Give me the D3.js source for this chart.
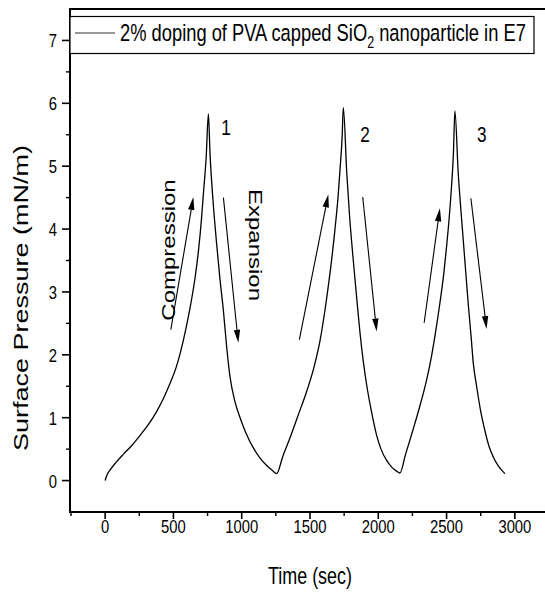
<!DOCTYPE html>
<html><head><meta charset="utf-8">
<script src="https://cdn.jsdelivr.net/npm/d3@7"></script>
<style>body{margin:0;background:#fff}svg{display:block}text{font-family:"Liberation Sans",Arial,sans-serif;fill:#000}</style>
</head><body><svg id="c" width="545" height="593"></svg>
<script>
const timeSec = [0,12,37,80,134,200,256,320,378,430,476,520,549,590,622,660,683,705,719,740,756,
  768,790,817,840,866,890,915,950,988,1030,1085,1130,1183,1225,1256,
  1300,1354,1410,1476,1524,1573,1622,1655,1683,1705,1720,1735,1744,
  1769,1790,1817,1840,1866,1890,1915,1950,1988,2020,2061,2100,2134,2158,
  2200,2256,2300,2354,2390,2415,2451,2480,2500,2520,2537,2550,2561,
  2585,2605,2622,2640,2659,2680,2695,2720,2750,2780,2810,2841,2880,2910,2927];
const pressure = [0,0.08,0.17,0.29,0.42,0.57,0.72,0.90,1.10,1.32,1.55,1.80,2.02,2.40,2.75,3.25,3.65,4.15,4.55,5.15,5.83,
  5.20,4.45,3.75,3.22,2.70,2.12,1.64,1.26,1.00,0.76,0.52,0.37,0.24,0.16,0.11,
  0.38,0.68,1.02,1.42,1.76,2.22,2.90,3.45,4.00,4.50,4.95,5.45,5.93,
  4.90,4.20,3.50,2.95,2.35,1.90,1.52,1.10,0.72,0.50,0.32,0.21,0.15,0.12,
  0.42,0.82,1.15,1.60,1.98,2.30,2.82,3.30,3.72,4.20,4.70,5.20,5.88,
  4.90,4.30,3.83,3.33,2.80,2.28,1.88,1.50,1.10,0.80,0.55,0.38,0.23,0.15,0.11];
const xTicks = [0,500,1000,1500,2000,2500,3000];
const yTicks = [0,1,2,3,4,5,6,7];
// arrows: [t0, p0, t1(tip), p1(tip)]
const arrows = [[481,2.40,646,4.51],[866,4.50,975,2.19],[1422,2.24,1634,4.55],[1886,4.51,1988,2.37],[2336,2.51,2451,4.33],[2678,4.49,2793,2.41]];
const cycleLabels = ["1","2","3"];
const cycleLabelPos = [[885,5.50],[1902,5.39],[2758,5.38]];
const legendText = ["2% doping of PVA capped SiO","2"," nanoparticle in E7"];

const SX = 0.78;
const svg = d3.select("#c");
const x = d3.scaleLinear().domain([-250,3250]).range([71,549]);
const y = d3.scaleLinear().domain([-0.5,7.5]).range([512,9]);

function txt(px,py,str,size,rot,anchor){
  return svg.append("text").attr("transform",`translate(${px},${py}) scale(${SX},1) rotate(${rot})`)
    .attr("text-anchor",anchor).style("font-size",size+"px").text(str);
}

// axes lines
svg.append("line").attr("x1",70).attr("x2",70).attr("y1",y(7.5)).attr("y2",y(-0.5)+1).attr("stroke","#000").attr("stroke-width",2);
svg.append("line").attr("x1",69).attr("x2",545).attr("y1",y(-0.5)).attr("y2",y(-0.5)).attr("stroke","#000").attr("stroke-width",2);
svg.append("line").attr("x1",69).attr("x2",545).attr("y1",y(7.5)).attr("y2",y(7.5)).attr("stroke","#000").attr("stroke-width",2);

// x ticks
const xMinor = d3.range(-250,3251,250).filter(v=>v%500!==0);
xTicks.forEach(v=>{svg.append("line").attr("x1",x(v)).attr("x2",x(v)).attr("y1",512).attr("y2",519).attr("stroke","#000").attr("stroke-width",1.6);
  txt(x(v),533,String(v),19,0,"middle");});
xMinor.forEach(v=>{ if(x(v)<545) svg.append("line").attr("x1",x(v)).attr("x2",x(v)).attr("y1",512).attr("y2",516).attr("stroke","#000").attr("stroke-width",1.4);});
// y ticks
yTicks.forEach(v=>{svg.append("line").attr("x1",62).attr("x2",70).attr("y1",y(v)).attr("y2",y(v)).attr("stroke","#000").attr("stroke-width",1.6);
  txt(57,y(v)+7,String(v),19,0,"end");});
d3.range(-0.5,7.6,1).forEach(v=>{ if(v>-0.5&&v<7.5) svg.append("line").attr("x1",66).attr("x2",70).attr("y1",y(v)).attr("y2",y(v)).attr("stroke","#000").attr("stroke-width",1.4);});

// titles
txt(310,584,"Time (sec)",23,0,"middle");
txt(28,298,"Surface Pressure (mN/m)",27,-90,"middle");

// curve
const pts = timeSec.map((t,i)=>[t,pressure[i]]);
svg.append("path").datum(pts).attr("fill","none").attr("stroke","#000").attr("stroke-width",1.3)
  .attr("d",d3.line().x(d=>x(d[0])).y(d=>y(d[1])).curve(d3.curveMonotoneX));

// arrows
arrows.forEach(a=>{
  const x0=x(a[0]),y0=y(a[1]),x1=x(a[2]),y1=y(a[3]);
  const dx=x1-x0,dy=y1-y0,L=Math.hypot(dx,dy),ux=dx/L,uy=dy/L;
  const hl=13,hw=3.2;
  const bx=x1-ux*hl,by=y1-uy*hl;
  svg.append("line").attr("x1",x0).attr("y1",y0).attr("x2",bx).attr("y2",by).attr("stroke","#000").attr("stroke-width",1.1);
  svg.append("path").attr("d",`M${x1},${y1}L${bx-uy*hw},${by+ux*hw}L${bx+uy*hw},${by-ux*hw}Z`).attr("fill","#000");
});

// annotations
cycleLabels.forEach((s,i)=>txt(x(cycleLabelPos[i][0]),y(cycleLabelPos[i][1]),s,22,0,"middle"));
txt(175,250,"Compression",24,-90,"middle");
txt(249,245,"Expansion",24,90,"middle");

// legend
svg.append("rect").attr("x",70).attr("y",16.5).attr("width",464).attr("height",37).attr("fill","#fff").attr("stroke","#000").attr("stroke-width",1.2);
svg.append("line").attr("x1",75).attr("x2",115).attr("y1",33).attr("y2",33).attr("stroke","#333").attr("stroke-width",1.1);
const lt = svg.append("text").attr("transform",`translate(120,41) scale(${SX},1)`).style("font-size","23.5px");
lt.append("tspan").text(legendText[0]);
lt.append("tspan").attr("dy",7).style("font-size","16px").text(legendText[1]);
lt.append("tspan").attr("dy",-7).text(legendText[2]);
</script></body></html>
